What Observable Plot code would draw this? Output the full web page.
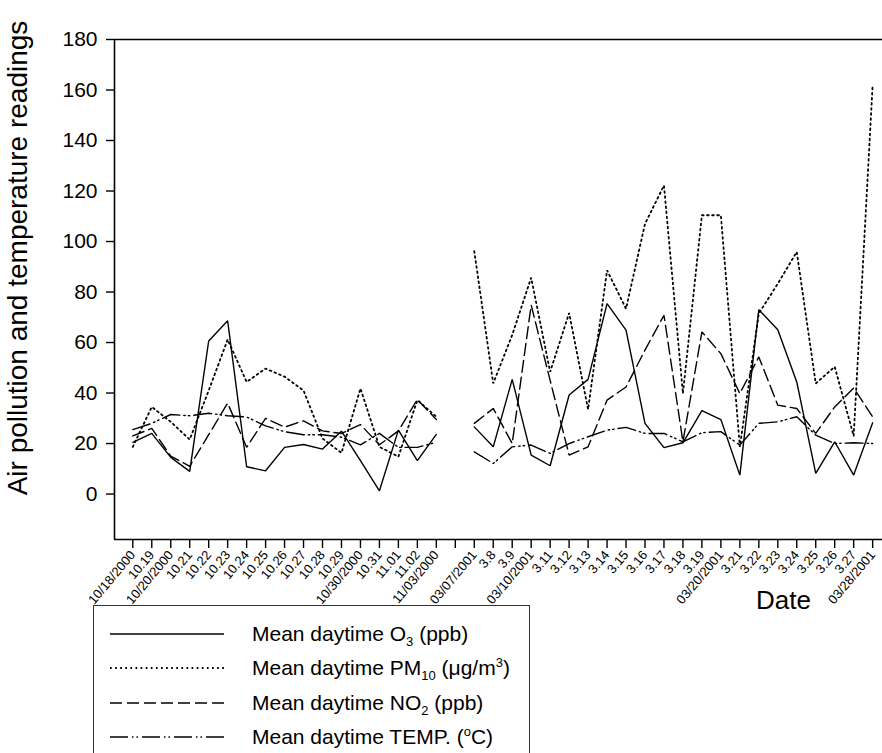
<!DOCTYPE html>
<html><head><meta charset="utf-8">
<script src="https://cdn.jsdelivr.net/npm/d3@7"></script>
<script src="https://cdn.jsdelivr.net/npm/@observablehq/plot@0.6"></script>
<style>
html,body{margin:0;padding:0;background:#fff;overflow:hidden;}
#wrap{position:relative;width:882px;height:753px;overflow:hidden;font-family:"Liberation Sans",Arial,sans-serif;color:#000;}
#wrap svg{display:block;}
#ylab{position:absolute;left:18px;top:258px;transform:translate(-50%,-50%) rotate(-90deg);white-space:nowrap;font-size:28px;}
#xlab{position:absolute;left:756px;top:585px;font-size:26px;white-space:nowrap;}
#legend{position:absolute;left:93px;top:605px;width:437px;height:170px;border:1px solid #333;box-sizing:border-box;background:#fff;}
.row{position:absolute;left:0;height:30px;width:100%;}
.row svg{position:absolute;left:15px;top:0;}
.row span{position:absolute;left:158px;top:2px;font-size:21px;white-space:nowrap;line-height:26px;}
sub,sup{font-size:13px;line-height:0;}
</style></head>
<body><div id="wrap"></div>
<script>
// ---- data ----
const octLabels = ["10/18/2000","10.19","10/20/2000","10.21","10.22","10.23","10.24","10.25","10.26","10.27","10.28","10.29","10/30/2000","10.31","11.01","11.02","11/03/2000"];
const marLabels = ["03/07/2001","3.8","3.9","03/10/2001","3.11","3.12","3.13","3.14","3.15","3.16","3.17","3.18","3.19","03/20/2001","3.21","3.22","3.23","3.24","3.25","3.26","3.27","03/28/2001"];
const yTicks = [0,20,40,60,80,100,120,140,160,180];

const o3Oct   = [20.5,24,14.5,9,60.6,68.6,10.8,9.2,18.5,19.6,17.8,24.9,13.2,1.3,25.3,13.2,23.6];
const pm10Oct = [18.7,34.5,28.6,21.6,41,61.2,44.4,49.7,46.5,41,22,16.3,41.8,18.7,14.8,37.2,30.6];
const no2Oct  = [23,26,15,11,23.5,36,18.5,30,26.5,29,25,24,27.5,19.5,25,37.5,29.5];
const tempOct = [25.5,28,31.5,31,32,31,30.5,27,24.7,23.5,23.5,22.5,19.5,24,18.5,18.5,20.5];

const o3Mar   = [26.6,18.7,45.4,15.4,11.2,39.2,45.4,75.4,64.9,28,18.4,20.3,33,29.5,7.5,73,65.1,44.4,8.2,20.7,7.5,28.2];
const pm10Mar = [96.2,43.8,63,85.7,48.4,71.7,33.5,88.6,73.4,107,122.2,39.8,110.4,110.4,18.7,71.5,83.3,95.9,43.8,50.4,23,162];
const no2Mar  = [28,33.9,20,74.8,45,15.4,18.7,37.2,42.4,57,70.8,20.7,64.2,55.6,39.8,54.3,35.2,33.9,24,34.5,42,30.6];
const tempMar = [16.7,12.1,18.7,19.4,16.1,20,22.7,25.3,26.4,24,24,20.7,24.3,24.7,19.4,28,28.6,30.6,23.3,20,20.3,20];

const seriesNames = ["O3","PM10","NO2","TEMP"];
const octValues = [o3Oct, pm10Oct, no2Oct, tempOct];
const marValues = [o3Mar, pm10Mar, no2Mar, tempMar];

// ---- styles ----
const dashes = {O3: null, PM10: "1.7,3.4", NO2: "12,5", TEMP: "18,4,1.5,3,1.5,4"};
const widths = {O3: 1.4, PM10: 1.8, NO2: 1.4, TEMP: 1.4};

// ---- build table ----
const gapSlots = 1;
const xLabels = [...octLabels, ...Array(gapSlots).fill(""), ...marLabels];
const xTicks = d3.range(xLabels.length);
const rows = [];
seriesNames.forEach((s, k) => {
  octValues[k].forEach((v, i) => rows.push({series: s, period: "oct", x: i, y: v}));
  marValues[k].forEach((v, j) => rows.push({series: s, period: "mar", x: octLabels.length + gapSlots + j, y: v}));
});

const lineMarks = seriesNames.map(s => Plot.line(rows.filter(d => d.series === s), {
  x: "x", y: "y", z: "period", stroke: "black", strokeWidth: widths[s],
  strokeDasharray: dashes[s], strokeLinejoin: "miter"
}));

const chart = Plot.plot({
  width: 882, height: 753,
  marginLeft: 114, marginRight: 0, marginTop: 39, marginBottom: 214,
  style: {fontFamily: "Liberation Sans, Arial, sans-serif", background: "white", color: "black", overflow: "visible"},
  x: {domain: [-0.965, 39.52], axis: null},
  y: {domain: [-18, 180], axis: null},
  marks: [
    Plot.axisY({ticks: yTicks, tickSize: 8, tickPadding: 9, fontSize: 21, label: null, strokeWidth: 1.4}),
    Plot.axisX({ticks: xTicks, tickFormat: i => xLabels[i], tickRotate: -50, tickSize: 9, tickPadding: 4, fontSize: 13, label: null, strokeWidth: 1.4}),
    Plot.ruleY([180, -18], {strokeWidth: 1.6}),
    Plot.ruleX([-0.965], {strokeWidth: 1.6}),
    ...lineMarks
  ]
});
const wrap = document.getElementById("wrap");
wrap.appendChild(chart);

// axis titles
const ylab = document.createElement("div");
ylab.id = "ylab"; ylab.textContent = "Air pollution and temperature readings";
wrap.appendChild(ylab);
const xlab = document.createElement("div");
xlab.id = "xlab"; xlab.textContent = "Date";
wrap.appendChild(xlab);

// legend
const legendItems = [
  {s: "O3", html: "Mean daytime O<sub>3</sub> (ppb)"},
  {s: "PM10", html: "Mean daytime PM<sub>10</sub> (&mu;g/m<sup>3</sup>)"},
  {s: "NO2", html: "Mean daytime NO<sub>2</sub> (ppb)"},
  {s: "TEMP", html: "Mean daytime TEMP. (<sup>o</sup>C)"}
];
const legend = document.createElement("div");
legend.id = "legend";
legendItems.forEach((it, k) => {
  const row = document.createElement("div");
  row.className = "row";
  row.style.top = (13 + k * 34.3) + "px";
  const svg = d3.create("svg").attr("width", 118).attr("height", 30);
  svg.append("line").attr("x1", 1).attr("x2", 115).attr("y1", 15).attr("y2", 15)
    .attr("stroke", "black").attr("stroke-width", widths[it.s])
    .attr("stroke-dasharray", dashes[it.s]);
  row.appendChild(svg.node());
  const sp = document.createElement("span");
  sp.innerHTML = it.html;
  row.appendChild(sp);
  legend.appendChild(row);
});
wrap.appendChild(legend);
</script>
</body></html>
